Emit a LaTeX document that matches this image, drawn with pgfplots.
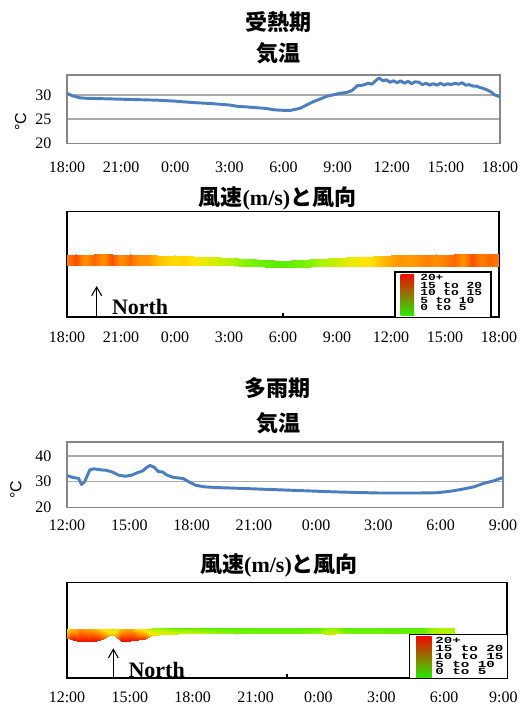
\documentclass[border=0pt]{standalone}
\usepackage{pgfplots}
\pgfplotsset{compat=1.18}
\usepackage{pgfplotstable}
\usetikzlibrary{arrows.meta}
\usepackage{fontspec}
\setmainfont{Liberation Serif}
\newfontfamily\cjk{Noto Sans CJK JP}
\newfontfamily\monof{Liberation Mono}
\newfontfamily\sansf{Liberation Sans}

\definecolor{tline}{RGB}{74,126,193}
\definecolor{tbox}{RGB}{134,134,134}
\definecolor{tgrid}{RGB}{170,170,170}
\definecolor{wr}{RGB}{240,10,0}
\definecolor{wy}{RGB}{255,230,0}
\definecolor{wg}{RGB}{40,235,0}

\newcommand\legtext[2]{\scalebox{#1}[1]{\fontsize{7}{7}\selectfont\monof\bfseries #2}}
\newcommand\ttl{\fontsize{16.5}{18}\selectfont}

\pgfplotstableread{
x y
0 30.3
0.3 29.8
0.7 29.4
1 29.3
2 29.2
3 29.1
4 29.0
5 28.9
6 28.7
7 28.4
8 28.2
9 27.9
9.5 27.6
10 27.5
11 27.2
11.5 26.9
12 26.8
12.4 26.8
12.9 27.2
13.6 28.5
14.4 29.7
15.1 30.3
15.5 30.5
15.8 30.9
16.1 31.9
16.4 32.0
16.7 32.4
16.9 32.2
17.1 32.9
17.3 33.5
17.5 32.9
17.7 33.1
17.9 32.6
18.1 32.9
18.3 32.5
18.5 32.9
18.7 32.4
18.9 32.8
19.1 32.3
19.3 32.7
19.5 32.6
19.7 32.1
19.9 32.4
20.1 32.0
20.3 32.3
20.5 32.0
20.7 32.4
20.9 32.0
21.1 32.3
21.3 32.1
21.5 32.4
21.7 32.2
21.9 32.5
22.1 32.0
22.3 32.1
22.5 31.8
22.7 31.8
22.9 31.5
23.1 31.3
23.3 31.0
23.5 30.6
23.7 30.0
24 29.6
}\tempA

\pgfplotstableread{
x y
0 32.4
0.3 31.6
0.55 31.3
0.7 28.9
0.85 30.0
1.1 34.6
1.3 35.0
1.6 34.6
1.9 34.4
2.2 33.7
2.5 32.5
2.8 32.1
3.1 32.5
3.4 33.5
3.65 34.2
3.85 35.6
4.0 36.3
4.2 35.6
4.4 33.9
4.6 33.8
4.8 32.6
5.1 31.7
5.4 31.4
5.6 31.2
5.9 29.8
6.2 28.6
6.6 28.0
7.2 27.7
8 27.5
9 27.2
10 26.9
11 26.6
12 26.3
13 26.0
14 25.8
15 25.6
16 25.6
17 25.6
17.8 25.7
18.4 26.2
19.0 27.0
19.6 28.0
20.1 29.4
20.5 30.2
21 31.6
}\tempB

\pgfplotstableread{
x y s
0 0.495 15
0.5 0.495 17
1 0.495 14
1.5 0.495 16
2 0.495 14
2.5 0.495 17
3 0.495 14
3.5 0.495 16
4 0.495 14
4.5 0.495 14
5 0.495 12
5.5 0.495 11
6 0.495 10.5
6.5 0.495 11
7 0.495 10
7.5 0.495 9
8 0.493 8
8.5 0.492 7
9 0.49 6
9.5 0.488 4.5
10 0.485 3.5
10.5 0.482 3
11 0.478 2.5
11.5 0.476 2
12 0.475 2
12.5 0.476 2.5
13 0.478 3
13.5 0.48 3.5
14 0.482 5
14.5 0.484 6
15 0.485 7
15.5 0.486 8.5
16 0.487 9
16.5 0.488 10
17 0.488 10.5
17.5 0.488 12
18 0.488 13
18.5 0.488 14
19 0.488 13.5
19.5 0.488 14
20 0.488 15
20.5 0.488 14
21 0.488 15
21.5 0.488 16
22 0.488 14
22.5 0.488 17
23 0.488 15
23.5 0.488 16
24 0.488 15
0 0.59 15
0.5 0.60 17
1 0.59 14
1.5 0.60 16
2 0.595 14
2.5 0.60 17
3 0.59 14
3.5 0.60 16
4 0.59 14
4.5 0.59 14
5 0.585 12
5.5 0.58 11
6 0.585 10.5
6.5 0.58 11
7 0.58 10
7.5 0.575 9
8 0.575 8
8.5 0.57 7
9 0.565 6
9.5 0.56 4.5
10 0.555 3.5
10.5 0.55 3
11 0.545 2.5
11.5 0.54 2
12 0.535 2
12.5 0.54 2.5
13 0.545 3
13.5 0.55 3.5
14 0.555 5
14.5 0.56 6
15 0.565 7
15.5 0.57 8.5
16 0.575 9
16.5 0.575 10
17 0.58 10.5
17.5 0.58 12
18 0.585 13
18.5 0.585 14
19 0.59 13.5
19.5 0.59 14
20 0.59 15
20.5 0.595 14
21 0.59 15
21.5 0.60 16
22 0.595 14
22.5 0.60 17
23 0.595 15
23.5 0.60 16
24 0.595 15
}\windA

\pgfplotstableread{
x y s
0 0.42 16
0.3 0.40 20
0.6 0.38 20
1.0 0.38 20
1.4 0.385 20
1.7 0.41 17
2.0 0.45 12
2.3 0.44 13
2.6 0.39 20
3.0 0.385 20
3.4 0.40 19
3.7 0.41 18
4.0 0.44 12
4.4 0.45 10
4.8 0.46 9
5.3 0.465 8
6 0.47 7
7 0.47 5
8 0.465 4
9 0.47 3
10 0.47 3
11 0.47 3
12 0.47 4
12.5 0.455 8
12.8 0.46 7
13.2 0.47 4
14 0.47 3
15 0.47 3
16 0.475 2.5
17 0.475 2.5
17.6 0.47 6
18 0.47 6
18.5 0.47 5
0 0.51 10
0.3 0.51 12
0.6 0.51 14
1.0 0.515 13
1.4 0.51 12
1.7 0.51 10
2.0 0.515 8
2.3 0.515 8
2.6 0.51 12
3.0 0.51 13
3.4 0.515 10
3.7 0.515 8
4.0 0.52 5
4.4 0.52 4
4.8 0.525 3
5.3 0.525 2
6 0.525 2
7 0.525 2
8 0.52 2
9 0.525 2
10 0.525 2
11 0.525 2
12 0.52 2
12.5 0.525 4
12.8 0.525 4
13.2 0.52 2
14 0.525 2
15 0.525 2
16 0.52 2
17 0.52 2
17.6 0.525 5
18 0.525 6
18.5 0.525 5
}\windB

\pgfplotsset{
  tempaxis/.style={scale only axis, anchor=north west,
    axis line style={tbox, line width=1.1pt},
    ymajorgrids, grid style={tgrid, line width=1pt},
    major tick length=0pt,
    tick label style={font=\fontsize{12}{14}\selectfont},
    /pgf/number format/assume math mode=true,
    yticklabel style={anchor=east, inner sep=0pt, xshift=-11.5pt}},
  windaxis/.style={scale only axis, anchor=north west,
    axis line style={black, line width=1.1pt},
    ymin=0, ymax=1, ytick=\empty, major tick length=0pt,
    xtick pos=left,
    tick label style={font=\fontsize{12}{14}\selectfont},
    colormap={wind}{rgb255=(40,235,0) rgb255=(165,245,0) rgb255=(255,230,0) rgb255=(255,125,0) rgb255=(240,10,0)},
    point meta min=0, point meta max=20,
    extra x tick labels={},
    extra x tick style={major tick length=3pt, tick style={black, line width=0.8pt}}}
}

\begin{document}
\begin{tikzpicture}
\useasboundingbox (0,0) rectangle (389.25pt,-529.5pt);

% ---------- Panel 1: temperature (heat season)
\node[font=\ttl\cjk\bfseries] at (208.5pt,-16.3pt) {受熱期};
\node[font=\ttl\cjk\bfseries] at (208.5pt,-40pt) {気温};
\begin{axis}[tempaxis, at={(50.25pt,-56.25pt)}, width=324.75pt, height=51.2pt,
  xmin=0, xmax=24, ymin=20, ymax=34.1, ytick={20,25,30},
  xtick={0,3,...,24},
  xticklabels={18:00,21:00,0:00,3:00,6:00,9:00,12:00,15:00,18:00},
  xticklabel style={anchor=center, yshift=-18.2pt}]
\addplot[tline, line width=2.2pt, line join=round] table[x=x,y=y] {\tempA};
\end{axis}
\node[rotate=90, font=\fontsize{12}{14}\selectfont\sansf] at (15.4pt,-91.3pt) {°C};

% ---------- Panel 2: wind (heat season)
\node[font=\ttl\bfseries] at (208.1pt,-148.5pt) {{\cjk 風速}(m/s){\cjk と風向}};
\begin{axis}[windaxis, at={(50.25pt,-158.8pt)}, width=324pt, height=79pt,
  xmin=0, xmax=24, xtick={0,3,...,24},
  xticklabels={18:00,21:00,0:00,3:00,6:00,9:00,12:00,15:00,18:00},
  xticklabel style={anchor=center, yshift=-15.4pt},
  extra x ticks={12}]
\addplot[surf, shader=interp, mesh/rows=2, point meta=\thisrow{s}] table[x=x,y=y] {\windA};
\end{axis}
\draw[line width=0.8pt, -{Straight Barb[length=6.5pt, width=7.5pt]}] (72.5pt,-237.75pt) -- (72.5pt,-214.5pt);
\node[anchor=base west, inner sep=0pt, font=\ttl\bfseries] at (83.8pt,-235.5pt) {North};
\draw[black, line width=1.1pt, fill=white] (296.25pt,-204pt) rectangle (368.25pt,-238pt);
\shade[top color=wr, middle color=wy, bottom color=wg] (300.5pt,-205.5pt) rectangle (310.5pt,-236.8pt);
\node[anchor=west, inner sep=0pt] at (315pt,-207.75pt) {\legtext{1.38}{20+}};
\node[anchor=west, inner sep=0pt] at (315pt,-213.75pt) {\legtext{1.38}{15 to 20}};
\node[anchor=west, inner sep=0pt] at (315pt,-219.4pt) {\legtext{1.38}{10 to 15}};
\node[anchor=west, inner sep=0pt] at (315pt,-225pt) {\legtext{1.38}{5 to 10}};
\node[anchor=west, inner sep=0pt] at (315pt,-230.6pt) {\legtext{1.38}{0 to 5}};

% ---------- Panel 3: temperature (rainy season)
\node[font=\ttl\cjk\bfseries] at (207.75pt,-291pt) {多雨期};
\node[font=\ttl\cjk\bfseries] at (208.5pt,-317.5pt) {気温};
\begin{axis}[tempaxis, at={(50.25pt,-331.5pt)}, width=327pt, height=49.05pt,
  xmin=0, xmax=21, ymin=20, ymax=45.4, ytick={20,30,40},
  xtick={0,3,...,21},
  xticklabels={12:00,15:00,18:00,21:00,0:00,3:00,6:00,9:00},
  xticklabel style={anchor=center, yshift=-13.2pt}]
\addplot[tline, line width=2.2pt, line join=round] table[x=x,y=y] {\tempB};
\end{axis}
\node[rotate=90, font=\fontsize{12}{14}\selectfont\sansf] at (11.85pt,-367.5pt) {°C};

% ---------- Panel 4: wind (rainy season)
\node[font=\ttl\bfseries] at (209.25pt,-423.75pt) {{\cjk 風速}(m/s){\cjk と風向}};
\begin{axis}[windaxis, at={(50.25pt,-437pt)}, width=330pt, height=71.5pt,
  xmin=0, xmax=21, xtick={0,3,...,21},
  xticklabels={12:00,15:00,18:00,21:00,0:00,3:00,6:00,\makebox[16pt][r]{9:00}},
  xticklabel style={anchor=center, yshift=-14.25pt},
  extra x ticks={10.5}]
\addplot[surf, shader=interp, mesh/rows=2, point meta=\thisrow{s}] table[x=x,y=y] {\windB};
\end{axis}
\draw[line width=0.8pt, -{Straight Barb[length=6.5pt, width=7.5pt]}] (85pt,-508.5pt) -- (85pt,-486.2pt);
\node[anchor=base west, inner sep=0pt, font=\ttl\bfseries] at (96.2pt,-508pt) {North};
\draw[black, line width=1.1pt, fill=white] (307pt,-475.7pt) rectangle (380.5pt,-508.9pt);
\shade[top color=wr, middle color=wy, bottom color=wg] (312pt,-477.5pt) rectangle (323.8pt,-508.3pt);
\node[anchor=west, inner sep=0pt] at (326.25pt,-480.5pt) {\legtext{1.52}{20+}};
\node[anchor=west, inner sep=0pt] at (326.25pt,-486.2pt) {\legtext{1.52}{15 to 20}};
\node[anchor=west, inner sep=0pt] at (326.25pt,-492.5pt) {\legtext{1.52}{10 to 15}};
\node[anchor=west, inner sep=0pt] at (326.25pt,-498.2pt) {\legtext{1.52}{5 to 10}};
\node[anchor=west, inner sep=0pt] at (326.25pt,-503.8pt) {\legtext{1.52}{0 to 5}};
\end{tikzpicture}
\end{document}
